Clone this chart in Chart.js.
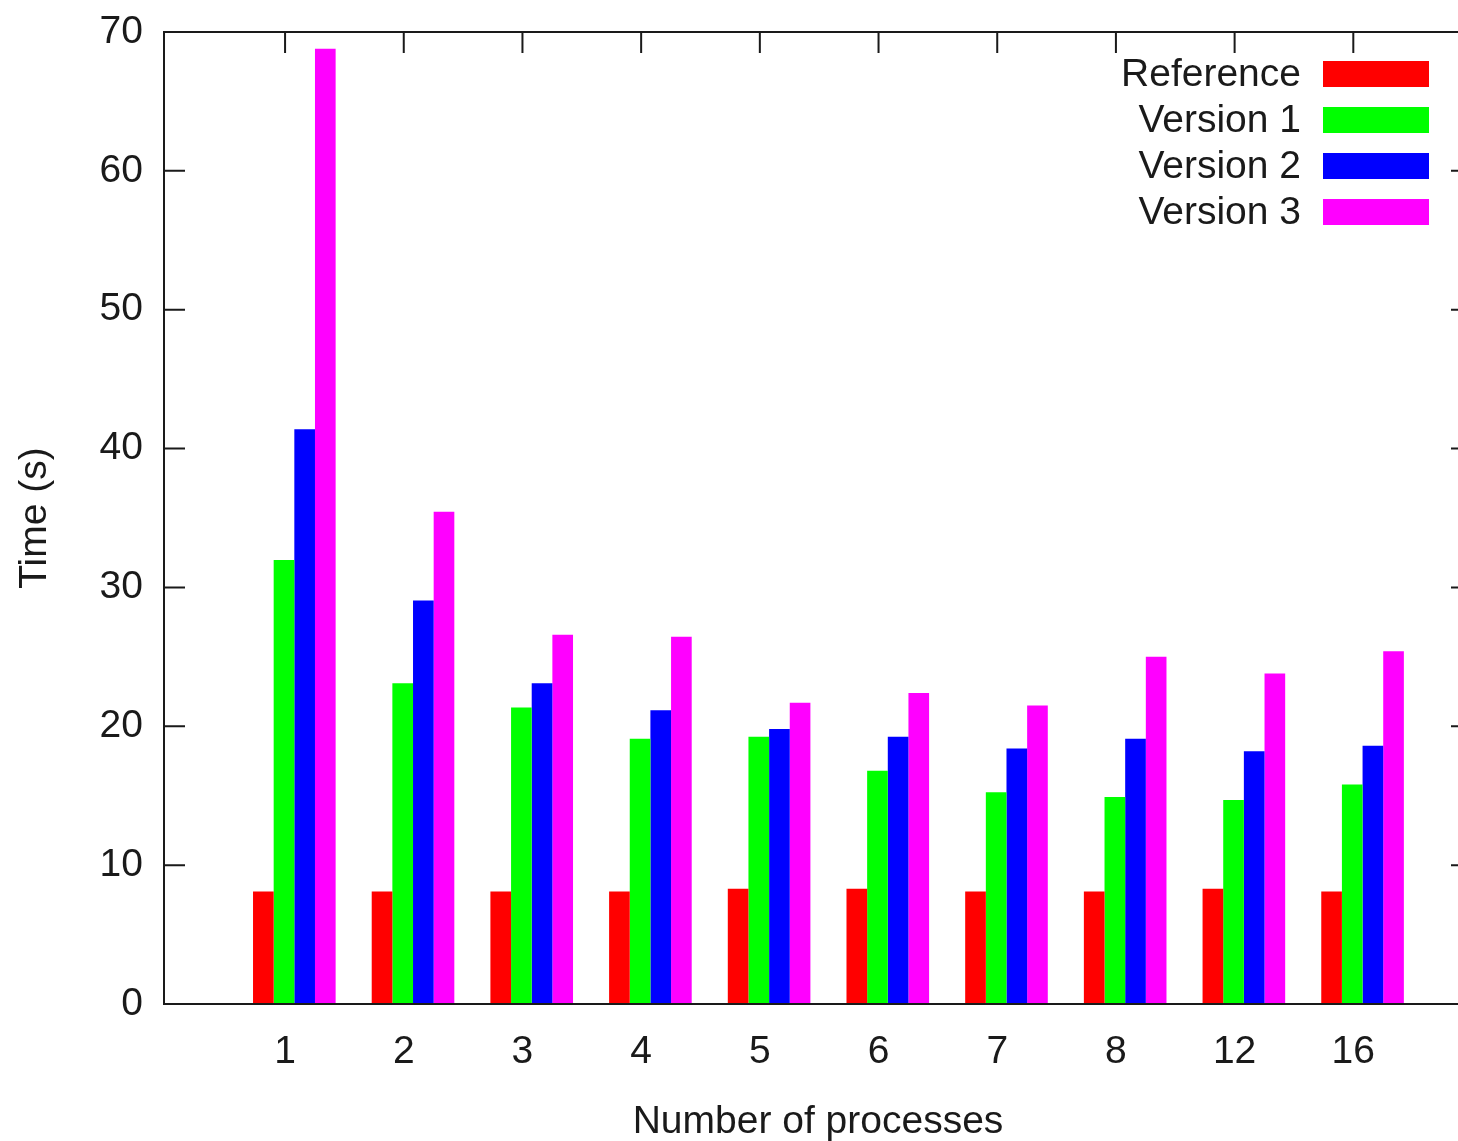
<!DOCTYPE html>
<html>
<head>
<meta charset="utf-8">
<title>Time vs number of processes</title>
<script src="https://cdn.jsdelivr.net/npm/chart.js@4.4.1/dist/chart.umd.min.js"></script>
<style>
    html, body { margin: 0; padding: 0; background: #fff; overflow: hidden; }
    canvas { display: block; }
</style>
</head>
<body>
<canvas id="timeChart" width="1480" height="1141"></canvas>
<script>
// Chart data
const processCounts = ['1', '2', '3', '4', '5', '6', '7', '8', '12', '16'];
const referenceTimes = [8.1, 8.1, 8.1, 8.1, 8.3, 8.3, 8.1, 8.1, 8.3, 8.1];
const version1Times = [31.97, 23.1, 21.35, 19.1, 19.25, 16.8, 15.25, 14.9, 14.7, 15.8];
const version2Times = [41.4, 29.05, 23.1, 21.15, 19.8, 19.25, 18.4, 19.1, 18.2, 18.6];
const version3Times = [68.8, 35.45, 26.6, 26.45, 21.7, 22.4, 21.5, 25.0, 23.8, 25.4];
const yTicks = [0, 10, 20, 30, 40, 50, 60, 70];

const seriesNames = ['Reference', 'Version 1', 'Version 2', 'Version 3'];
const seriesColors = ['#ff0000', '#00ff00', '#0000ff', '#ff00ff'];
const seriesValues = [referenceTimes, version1Times, version2Times, version3Times];

const FONT = '"Liberation Sans", Arial, sans-serif';
const FONT_SIZE = 39;
const INK = '#1a1a1a';
const groupShift = 0.078; // gnuplot clusters sit a little right of the tick

const datasets = seriesNames.map((name, s) => ({
    label: name,
    data: seriesValues[s].map((v, i) => ({ x: i + 1 + groupShift, y: v })),
    backgroundColor: seriesColors[s],
    borderWidth: 0,
    categoryPercentage: 0.696,
    barPercentage: 1.0,
}));

// Frame, inward ticks and the legend, gnuplot style
const gnuplotFrame = {
    id: 'gnuplotFrame',
    afterDatasetsDraw(chart) {
        const { ctx, chartArea: a, scales } = chart;
        const tickLen = 21;
        ctx.save();
        ctx.strokeStyle = INK;
        ctx.lineWidth = 2;
        ctx.strokeRect(a.left, a.top, a.right - a.left, a.bottom - a.top);

        ctx.beginPath();
        yTicks.forEach(v => {
            const y = scales.y.getPixelForValue(v);
            ctx.moveTo(a.left, y); ctx.lineTo(a.left + tickLen, y);
            ctx.moveTo(a.right, y); ctx.lineTo(a.right - tickLen, y);
        });
        processCounts.forEach((p, i) => {
            const x = scales.x.getPixelForValue(i + 1);
            ctx.moveTo(x, a.top); ctx.lineTo(x, a.top + tickLen);
        });
        ctx.stroke();

        // legend
        ctx.font = FONT_SIZE + 'px ' + FONT;
        ctx.textAlign = 'right';
        ctx.textBaseline = 'middle';
        const boxRight = a.right - 43;
        chart.data.datasets.forEach((ds, i) => {
            const top = a.top + 29 + i * 46;
            ctx.fillStyle = ds.backgroundColor;
            ctx.fillRect(boxRight - 106, top, 106, 26);
            ctx.fillStyle = INK;
            ctx.fillText(ds.label, boxRight - 128, top + 14);
        });
        ctx.restore();
    }
};

new Chart(document.getElementById('timeChart').getContext('2d'), {
    type: 'bar',
    data: { datasets: datasets },
    options: {
        responsive: false,
        animation: false,
        layout: { padding: { top: 32, right: 8, left: 0, bottom: 0 } },
        plugins: {
            legend: { display: false },
            tooltip: { enabled: false },
        },
        scales: {
            x: {
                type: 'linear',
                offset: false,
                min: -0.02,
                max: 11,
                afterBuildTicks: s => { s.ticks = processCounts.map((p, i) => ({ value: i + 1 })); },
                afterFit: s => { s.height = 137; s.paddingLeft = 0; s.paddingRight = 0; },
                grid: { display: false, drawTicks: false, offset: false },
                border: { display: false },
                ticks: {
                    autoSkip: false,
                    maxRotation: 0,
                    padding: 25,
                    color: INK,
                    font: { family: FONT, size: FONT_SIZE },
                    callback: (v, i) => processCounts[i],
                },
                title: {
                    display: true,
                    text: 'Number of processes',
                    color: INK,
                    font: { family: FONT, size: FONT_SIZE },
                    padding: { top: 0, bottom: -5 },
                },
            },
            y: {
                min: 0,
                max: 70,
                afterBuildTicks: s => { s.ticks = yTicks.map(v => ({ value: v })); },
                afterFit: s => { s.width = 164; s.paddingTop = 0; s.paddingBottom = 0; },
                grid: { display: false, drawTicks: false },
                border: { display: false },
                ticks: {
                    padding: 21,
                    color: INK,
                    font: { family: FONT, size: FONT_SIZE },
                },
                title: {
                    display: true,
                    text: 'Time (s)',
                    color: INK,
                    font: { family: FONT, size: FONT_SIZE },
                    padding: { top: 12, bottom: 0 },
                },
            },
        },
    },
    plugins: [gnuplotFrame],
});
</script>
</body>
</html>
